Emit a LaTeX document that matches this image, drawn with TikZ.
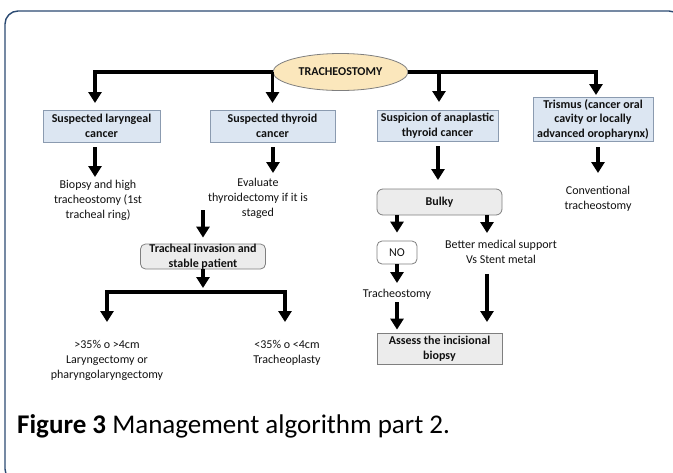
\documentclass[tikz,border=0pt]{standalone}
\usepackage{fontspec}
\setmainfont{Carlito}
\usetikzlibrary{arrows.meta,shapes.geometric,calc}
\definecolor{cFrame}{HTML}{2B4A72}
\definecolor{cBlue}{HTML}{DCE6F2}
\definecolor{cBlueEdge}{HTML}{8B9BB0}
\definecolor{cEll}{HTML}{FBE7BC}
\definecolor{cGrey}{HTML}{ECECEC}
\definecolor{cGreyEdge}{HTML}{7F7F7F}
\definecolor{cTxt}{HTML}{111111}
\begin{document}
\begin{tikzpicture}[x=1pt,y=-1pt,
  arr/.style={line width=3.6pt,-{Triangle[width=13pt,length=11pt]},line join=miter},
  bluebox/.style={draw=cBlueEdge,line width=0.9pt,fill=cBlue,align=center,inner sep=0pt,text=cTxt,
    font=\fontsize{12}{14.5}\selectfont\bfseries},
  greybox/.style={draw=cGreyEdge,line width=0.8pt,fill=cGrey,align=center,inner sep=0pt,text=cTxt,
    font=\fontsize{12}{14.5}\selectfont\bfseries},
  plain/.style={align=center,inner sep=0pt,text=cTxt,font=\fontsize{12}{15}\selectfont},
]
\useasboundingbox (0,0) rectangle (673,472);
\draw[cFrame,line width=1.4pt,rounded corners=13pt] (5,11) rectangle (682,482);

% root
\node[ellipse,draw=cGreyEdge,line width=0.8pt,fill=cEll,minimum width=135pt,minimum height=37pt,
  inner sep=0pt,text=cTxt,font=\fontsize{12}{13}\selectfont\bfseries] (tr) at (340.5,72) {TRACHEOSTOMY};

% first level
\node[bluebox,minimum width=117pt,minimum height=32pt] (b1) at (101.5,126) {Suspected laryngeal\\cancer};
\node[bluebox,minimum width=125pt,minimum height=32pt] (b2) at (272.5,126) {Suspected thyroid\\cancer};
\node[bluebox,minimum width=121pt,minimum height=31pt] (b3) at (437.5,125.5) {Suspicion of anaplastic\\thyroid cancer};
\node[bluebox,minimum width=120pt,minimum height=44pt] (b4) at (593,119) {Trismus (cancer oral\\cavity or locally\\advanced oropharynx)};

\coordinate (q1) at (95,103);
\coordinate (q2) at (272.5,103);
\coordinate (q3) at (439,102);
\coordinate (q4) at (596,95);
\draw[arr] (tr.west) -| (q1);
\draw[arr] (q2 |- tr.west) -- (q2);
\draw[arr] (tr.east) -| (q4);
\draw[arr] (q3 |- tr.east) -- (q3);

% column 1
\node[plain] (t1) at (98,200) {Biopsy and high\\tracheostomy (1st\\tracheal ring)};
\coordinate (p1) at (95,177);
\draw[arr] ($(b1.south -| p1)+(0,5)$) -- (p1);

% column 2
\node[plain] (t2) at (258,198) {Evaluate\\thyroidectomy if it is\\staged};
\coordinate (p2) at (273,173);
\draw[arr] ($(b2.south -| p2)+(0,5)$) -- (p2);
\node[greybox,rounded corners=5pt,minimum width=125pt,minimum height=25pt] (tb) at (203,256.5) {Tracheal invasion and\\stable patient};
\draw[arr] ($(t2.south -| tb.north)+(0,-8)$) -- ($(tb.north)+(0,-6)$);
\coordinate (bm) at (203,292);
\coordinate (p6) at (107,322);
\coordinate (p7) at (285,322);
\draw[arr] (tb.south) -- ($(bm)+(0,-4)$);
\draw[arr] (bm) -| (p6);
\draw[arr] (bm) -| (p7);
\node[plain] (t3) at (107,360) {>35\% o >4cm\\Laryngectomy or\\pharyngolaryngectomy};
\node[plain] (t4) at (287,352.5) {<35\% o <4cm\\Tracheoplasty};

% column 3
\coordinate (p3) at (438,180);
\draw[arr] ($(b3.south -| p3)+(0,5)$) -- (p3);
\node[greybox,rounded corners=6pt,minimum width=125pt,minimum height=26pt] (bulky) at (439.5,202) {Bulky};
\node[draw=cGreyEdge,line width=0.8pt,fill=white,rounded corners=5pt,minimum width=40pt,minimum height=23pt,
  inner sep=0pt,text=cTxt,font=\fontsize{12}{14}\selectfont] (no) at (397,252.5) {NO};
\coordinate (p8) at (487,233);
\draw[arr] (bulky.south -| no.north) -- ($(no.north)+(0,-8)$);
\draw[arr] (bulky.south -| p8) -- (p8);
\node[plain] (better) at (501,252) {Better medical support\\Vs Stent metal};
\node[plain] (trach2) at (397,294) {Tracheostomy};
\coordinate (p9) at (397,283);
\draw[arr] (no.south) -- (p9);
\node[greybox,minimum width=125pt,minimum height=31pt] (assess) at (439.5,348.5) {Assess the incisional\\biopsy};
\draw[arr] ($(trach2.south)+(0,3)$) -- ($(trach2.south |- assess.north)+(0,-3)$);
\coordinate (p10) at (487,322);
\draw[arr] ($(better.south -| p10)+(0,10)$) -- (p10);

% column 4
\coordinate (p4) at (598,173);
\draw[arr] ($(b4.south -| p4)+(0,6)$) -- (p4);
\node[plain] (conv) at (598,199) {Conventional\\tracheostomy};

% caption
\node[anchor=base west,inner sep=0pt,text=black,font=\fontsize{27}{32}\selectfont] (cap) at (17,433)
  {\textbf{Figure 3} Management algorithm part 2.};
\end{tikzpicture}
\end{document}
